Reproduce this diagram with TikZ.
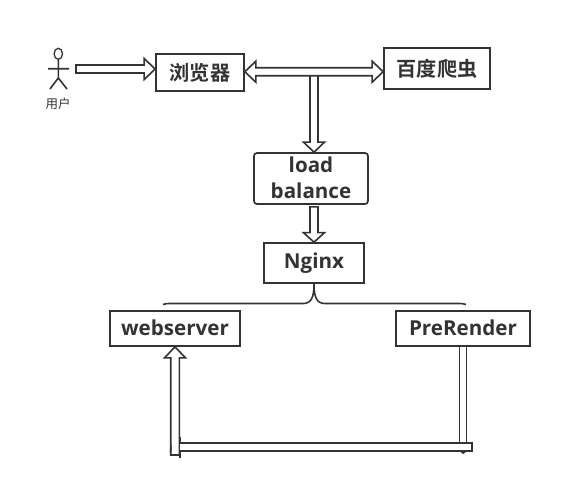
\documentclass[tikz,border=0pt]{standalone}
\usepackage{fontspec}
\setmainfont{Open Sans}
\newfontfamily\cjkb{Noto Sans CJK SC Bold}
\newfontfamily\cjkl{Noto Sans CJK SC}
\usetikzlibrary{calc}
\definecolor{ink}{HTML}{333333}
\newcommand{\nudge}[1]{\raisebox{0.9pt}{#1}}
\tikzset{
  box/.style={draw=ink,line width=1.7pt,fill=white,inner sep=0pt,text=ink,align=center,font=\bfseries\fontsize{20.6}{26}\selectfont},
  cjkbox/.style={box,font=\cjkb\fontsize{20.2}{24}\selectfont},
  blockline/.style={draw=ink,line width=1.6pt,fill=white,line join=miter},
  plainline/.style={draw=ink,line width=1.6pt}
}
% hollow block arrow with one head at the target
\newcommand{\blockone}[4][4]{%
  \coordinate (hb) at ($(#3)!#4!(#2)$);
  \draw[blockline] ($(#2)!#1pt!90:(#3)$) -- ($(hb)!#1pt!90:(#3)$) -- ($(hb)!10.5pt!90:(#3)$) -- (#3)
    -- ($(hb)!10.5pt!-90:(#3)$) -- ($(hb)!#1pt!-90:(#3)$) -- ($(#2)!#1pt!-90:(#3)$) -- cycle;}
% hollow block arrow with a head at both ends
\newcommand{\blocktwo}[2]{%
  \coordinate (ha) at ($(#1)!11pt!(#2)$);
  \coordinate (hb) at ($(#2)!11pt!(#1)$);
  \draw[blockline] (#1) -- ($(ha)!10.5pt!90:(#2)$) -- ($(ha)!4pt!90:(#2)$) -- ($(hb)!4pt!90:(#2)$) -- ($(hb)!10.5pt!90:(#2)$) -- (#2)
    -- ($(hb)!10.5pt!-90:(#2)$) -- ($(hb)!4pt!-90:(#2)$) -- ($(ha)!4pt!-90:(#2)$) -- ($(ha)!10.5pt!-90:(#2)$) -- cycle;}
\begin{document}
\begin{tikzpicture}[x=1pt,y=-1pt]
\useasboundingbox[fill=white] (0,0) rectangle (562,488);
% boxes
\node[cjkbox,minimum width=88pt,minimum height=37pt] (browser) at (200,72.5) {浏览器};
\node[cjkbox,minimum width=106pt,minimum height=41pt] (spider) at (437,68.5) {百度爬虫};
\node[box,rounded corners=3pt,minimum width=114pt,minimum height=51pt] (lb) at (311,178.5) {\nudge{load}\\\nudge{balance}};
\node[box,minimum width=100pt,minimum height=40pt] (nginx) at (314,263) {\nudge{Nginx}};
\node[box,minimum width=130pt,minimum height=35pt] (web) at (175,328.5) {\nudge{webserver}};
\node[box,minimum width=134pt,minimum height=35pt] (pre) at (463,328.5) {\nudge{PreRender}};
% user
\draw[plainline,line width=1.3pt] (58.3,53.8) ellipse (4.2pt and 5.5pt);
\draw[plainline] (58.3,59.3) -- (58.3,78) (48,68.7) -- (69,68.7) (50,89) -- (58.3,78) -- (67,89);
\node[inner sep=0pt,text=ink,font=\cjkl\fontsize{12.5}{14}\selectfont] (user) at (58,103.5) {用户};
% arrows top
\coordinate (ua) at (76,69);
\coordinate (ub) at (browser.west |- ua);
\blockone{ua}{ub}{11pt}
\coordinate (ba) at ($(browser.east)+(0,-0.8)$);
\coordinate (bb) at (spider.west |- ba);
\blocktwo{ba}{bb}
\coordinate (da) at (nginx.north |- ba);
\coordinate (db) at (nginx.north |- lb.north);
\coordinate (dc) at ($(da)+(0,4.2)$);
\blockone{dc}{db}{10pt}
\coordinate (la) at (nginx.north |- lb.south);
\coordinate (lc) at ($(la)+(0,2)$);
\blockone{lc}{nginx.north}{9.5pt}
% brace from Nginx
\draw[plainline] (nginx.south) .. controls (314,298) and (311,303.5) .. (303,303.5) -- (170,303.5) .. controls (166,303.5) and (165,304) .. (163,304.5);
\draw[plainline] (nginx.south) .. controls (314,298) and (317,303.5) .. (325,303.5) -- (460,303.5) .. controls (463,303.5) and (464,304) .. (466,304.5);
% return path
\coordinate (ra) at (180,447);
\coordinate (rb) at (472,447);
\coordinate (pa) at (pre.south);
\coordinate (wb) at (web.south);
\coordinate (wa) at (175,455);
\blockone[4.3]{wa}{wb}{11pt}
\draw[blockline,line width=1.6pt] (171,446) -- (170.5,452) (180,437) -- (180,458);
\draw[blockline] ($(ra)+(0,-4)$) -- ($(rb)+(0,-4)$) -- ($(rb)+(0,4)$) -- ($(ra)+(0,4)$);
\draw[plainline,line width=1.5pt] ($(pa)+(-3.5,0)$) -- ($(pa)+(-3.5,97)$) ($(pa)+(3.5,0)$) -- ($(pa)+(3.5,97)$);
\fill[ink] (460.5,452) -- (466,452) -- (463,454) -- cycle;
\end{tikzpicture}
\end{document}
